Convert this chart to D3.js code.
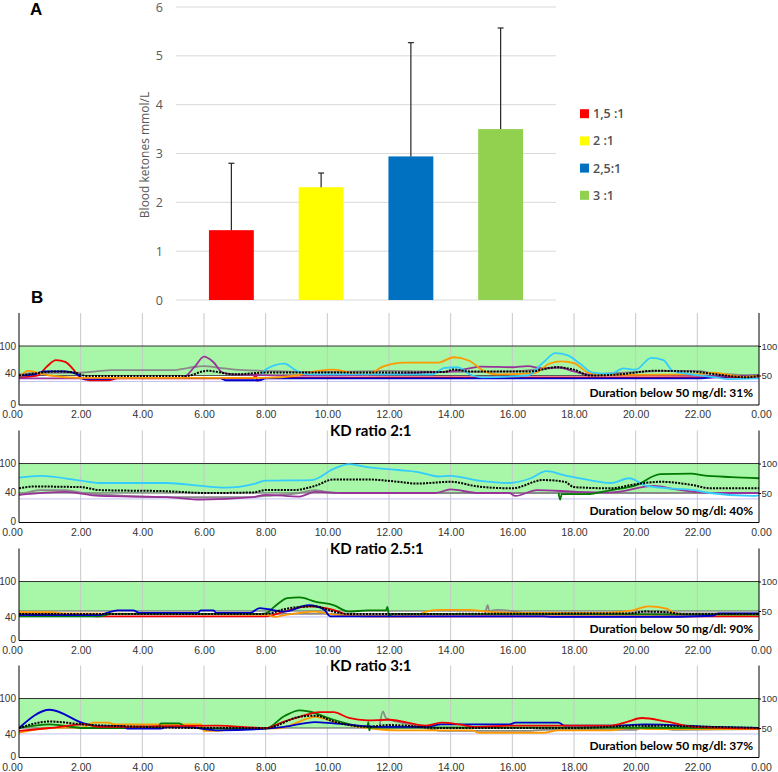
<!DOCTYPE html>
<html><head><meta charset="utf-8">
<script src="https://cdn.jsdelivr.net/npm/d3@7"></script>
<style>body{margin:0;background:#fff;} svg{display:block;}</style>
</head><body>
<svg id="chart" width="778" height="772"></svg>
<script>
// ---------------- Panel A data ----------------
const ratioCategories = ["1,5 :1", "2 :1", "2,5:1", "3 :1"];
const ketoneMeans = [1.43, 2.31, 2.94, 3.50];
const ketoneSD = [1.37, 0.29, 2.33, 2.07];
const ketoneTicks = [0, 1, 2, 3, 4, 5, 6];
const ratioColors = ["#ff0000", "#ffff00", "#0070c0", "#92d050"];

// ---------------- Panel B data ----------------
const timeTicks = [0, 2, 4, 6, 8, 10, 12, 14, 16, 18, 20, 22, 24];
const timeTickLabels = ["0.00","2.00","4.00","6.00","8.00","10.00","12.00","14.00","16.00","18.00","20.00","22.00","0.00"];
const leftTicks = [0, 40, 100];
const rightTicks = [50, 100];
const panelTitles = [null, "KD ratio 2:1", "KD ratio 2.5:1", "KD ratio 3:1"];
const durationTexts = ["Duration below 50 mg/dl: 31%", "Duration below 50 mg/dl: 40%", "Duration below 50 mg/dl: 90%", "Duration below 50 mg/dl: 37%"];

// traces: [hour, mg/dl]
const p1Gray = [[0,52],[0.5,54],[2,55],[2.5,57],[3,59],[5,59],[5.5,63],[6,66],[6.5,63],[7,60],[8,58],[10,56],[12,58],[13,57],[14,56],[16,57],[17.5,63],[18.5,52],[20,56],[21,58],[22,58],[22.5,54],[24,50]];
const p1Red = [[0,47],[0.6,50],[0.9,65],[1.2,76],[1.5,73],[1.8,58],[2.0,46],[2.3,42],[2.9,42],[3.2,45],[7.6,45],[7.68,53],[7.72,41],[7.9,46],[12,47],[18,47],[24,47]];
const p1Blue = [[0,50],[0.5,52],[0.8,57],[1.5,57],[1.9,52],[2.1,44],[2.9,44],[3.2,46],[6.5,46],[6.7,42],[7.8,42],[8,45],[17,45],[22,45],[22.5,47],[24,50]];
const p1Purple = [[0,45],[2,45],[5.3,46],[5.7,65],[6.0,82],[6.3,73],[6.6,55],[7,52],[9,50],[12,52],[13,55],[14,57],[14.6,62],[15,65],[16,64],[16.5,66],[17,62],[17.5,64],[18,57],[18.5,52],[20,51],[22,50],[24,48]];
const p1Orange = [[0,48],[0.3,58],[0.6,55],[1,50],[2,46],[8,46],[9,50],[9.7,58],[10.2,60],[10.8,54],[11.3,52],[11.8,65],[12.5,72],[13.6,72],[14.1,81],[14.6,75],[15.1,57],[15.5,52],[16.7,54],[17.2,70],[17.6,74],[18.0,71],[18.5,54],[19,51],[22,52],[22.5,55],[23.5,48],[24,50]];
const p1Cyan = [[7.9,52],[8.0,60],[8.6,70],[9.0,58],[9.4,52],[13.4,52],[13.8,63],[14.2,64],[14.7,50],[15,47],[16.5,50],[17,72],[17.4,88],[17.8,84],[18.2,70],[18.6,55],[19.2,53],[19.6,62],[20,60],[20.5,80],[20.9,76],[21.2,58],[21.8,52],[22.6,47],[23,44],[24,45]];
const p1Mean = [[0,50],[0.6,54],[1.2,57],[1.8,55],[2.2,49],[5.4,49],[6.1,58],[7,52],[8,55],[10,55],[12,55],[13.8,56],[14.1,60],[14.6,57],[16.6,57],[17.4,64],[18,60],[18.5,50],[19.5,52],[20.6,58],[22,56],[22.6,52],[23.6,47],[24,50]];

const p2Gray = [[0,47],[0.7,55],[1.5,55],[2.1,50],[4.8,43],[7.5,43],[8,45],[9.1,50],[9.6,55],[10.2,50],[24,50]];
const p2Purple = [[0,47],[1.5,52],[2.6,45],[4.8,43],[5.9,39],[7.6,43],[8,47],[9.1,44],[9.6,52],[10.5,50],[13.5,50],[14,56],[14.9,50],[15.9,50],[16.1,45],[16.8,55],[18.1,52],[19.2,51],[20.6,62],[21.3,56],[22.4,50],[24,50]];
const p2Green = [[17.5,50],[17.55,39],[17.6,48],[18.4,48],[19.2,55],[20,63],[20.8,82],[21.8,83],[22.2,80],[23.1,77],[24,75]];
const p2Cyan = [[0,76],[0.7,79],[2,71],[2.6,67],[4.8,67],[5.9,62],[6.7,59],[7.6,65],[8,71],[9.5,72],[10.2,91],[10.7,99],[11.3,94],[12.3,89],[12.9,86],[13.6,78],[14,79],[14.9,71],[15.9,67],[16.6,75],[17.1,87],[17.7,80],[18.5,72],[19.2,67],[19.8,75],[20.3,63],[20.8,59],[21.9,55],[22.4,50],[23.8,45],[24,46]];
const p2Mean = [[0,58],[0.5,61],[2,60],[2.6,55],[4.8,53],[6.1,50],[7.6,51],[8,55],[8.9,55],[9.6,62],[10.2,73],[11.3,73],[12.3,69],[12.9,66],[14,69],[14.9,61],[16,58],[17,72],[17.7,69],[18,60],[19.2,58],[20,65],[20.8,69],[21.9,63],[22.4,58],[24,58]];

const p3Gray = [[0,45],[15.1,45],[15.2,60],[15.25,50],[15.5,52],[16,50],[16.5,46],[24,46]];
const p3Red = [[0,44],[2,44],[2.5,41],[8,41],[8.6,49],[9.4,58],[10.2,52],[10.7,43],[11.2,41],[24,41]];
const p3Orange = [[0,48],[1,48],[1.5,46],[8,44],[8.3,40],[8.6,43],[9.6,49],[10.2,44],[10.8,42],[12.8,41],[13.2,49],[13.6,52],[14.6,52],[15.2,49],[16,47],[19,47],[19.9,51],[20.4,58],[21,54],[21.3,46],[22,44],[24,44]];
const p3Green = [[0,41],[2.6,41],[3,45],[7.7,45],[8,46],[8.3,58],[8.7,72],[9.1,73],[9.6,66],[10.2,60],[10.7,49],[11.3,51],[11.9,51],[11.95,57],[12.0,41],[12.1,45],[24,44]];
const p3Blue = [[0,43],[2.6,43],[2.85,47],[3.2,51],[3.7,51],[3.9,47],[5.8,47],[5.9,51],[6.3,51],[6.4,47],[7.5,47],[7.8,55],[8.1,53],[8.6,49],[9.4,60],[9.9,52],[10.1,41],[17,41],[17.3,40],[20.4,40],[22.5,42],[22.7,46],[24,46]];
const p3Mean = [[0,45],[8,45],[8.6,53],[9.1,57],[9.6,58],[10.2,49],[10.7,45],[19.8,46],[20.3,49],[21,48],[21.5,45],[24,45]];

const p4Gray = [[11.7,55],[11.8,78],[11.9,67],[12.4,59],[13.2,50],[13.7,45],[16.5,45],[17,47],[20,47],[20.3,53],[21.3,47],[24,48]];
const p4Orange = [[0,42],[1.0,50],[2.1,51],[2.4,59],[2.9,59],[3.1,56],[5.9,56],[6.0,45],[6.3,45],[6.9,48],[8.5,50],[9.1,61],[9.6,69],[10.2,61],[11.3,50],[12.3,46],[14.7,46],[14.9,42],[17,42],[17.5,46],[19.2,46],[19.8,50],[20.5,48],[24,48]];
const p4Green = [[0,50],[1.0,56],[2.1,50],[4.5,50],[4.6,58],[5.2,58],[5.4,52],[6.3,49],[8,49],[8.6,70],[9.1,80],[9.4,78],[10.2,64],[11.3,52],[11.33,60],[11.36,46],[11.4,51],[24,50]];
const p4Blue = [[0,50],[1.0,81],[2.1,58],[2.6,53],[3.4,53],[3.5,49],[4.6,49],[4.8,52],[5.6,52],[5.9,49],[6.5,46],[8,49],[8.6,52],[9.6,60],[10.2,58],[11.8,52],[13.2,52],[13.7,56],[15.9,56],[16.1,59],[17.5,59],[17.7,54],[19.2,54],[20.3,56],[22.4,52],[24,50]];
const p4Red = [[0,45],[1.0,50],[2.1,56],[2.6,52],[6.4,54],[8,50],[8.6,61],[9.1,69],[9.75,77],[10.2,77],[10.7,67],[11.3,63],[12,64],[13.2,54],[13.7,59],[14.3,56],[14.8,52],[16,54],[19.2,54],[19.7,60],[20.2,67],[21,61],[21.9,52],[24,49]];
const p4Mean = [[0,50],[1.0,61],[2.1,56],[4,52],[6,50],[8,50],[9.1,69],[9.6,71],[10.2,61],[11.3,52],[12,55],[13.7,50],[18,50],[20.3,54],[22.4,52],[24,50]];

const traceColors = {gray:"#8a8a8a", red:"#ee0000", blue:"#0000cc", purple:"#993399", orange:"#ff9900", cyan:"#33ccff", green:"#007a00", mean:"#000000"};

const panelTraces = [
  [["gray",p1Gray],["red",p1Red],["blue",p1Blue],["purple",p1Purple],["orange",p1Orange],["cyan",p1Cyan],["mean",p1Mean]],
  [["gray",p2Gray],["purple",p2Purple],["green",p2Green],["cyan",p2Cyan],["mean",p2Mean]],
  [["gray",p3Gray],["red",p3Red],["orange",p3Orange],["green",p3Green],["blue",p3Blue],["mean",p3Mean]],
  [["gray",p4Gray],["orange",p4Orange],["green",p4Green],["blue",p4Blue],["red",p4Red],["mean",p4Mean]]
];

const svg = d3.select("#chart");

// ---------------- Panel A ----------------
const gA = svg.append("g");
const yA = d3.scaleLinear().domain([0, 6]).range([300, 7]);
const xA = d3.scaleBand().domain(ratioCategories).range([176, 556]).paddingInner(0.5).paddingOuter(0.367);

gA.selectAll("line.grid").data(ketoneTicks).join("line")
  .attr("x1", 176).attr("x2", 556)
  .attr("y1", d => yA(d)).attr("y2", d => yA(d))
  .attr("stroke", "#d9d9d9").attr("stroke-width", 1);

const axA = gA.append("g").attr("transform", "translate(166,0)")
  .call(d3.axisLeft(yA).tickValues(ketoneTicks).tickSize(0).tickFormat(d3.format("d")));
axA.select(".domain").remove();
axA.selectAll("text").attr("font-family", "'Open Sans', sans-serif").attr("font-size", 12.5).attr("fill", "#595959");

gA.selectAll("rect.bar").data(ketoneMeans).join("rect")
  .attr("x", (d, i) => xA(ratioCategories[i])).attr("width", xA.bandwidth())
  .attr("y", d => yA(d)).attr("height", d => yA(0) - yA(d))
  .attr("fill", (d, i) => ratioColors[i]);

const errG = gA.selectAll("g.err").data(ketoneMeans).join("g");
errG.append("line")
  .attr("x1", (d, i) => xA(ratioCategories[i]) + xA.bandwidth() / 2)
  .attr("x2", (d, i) => xA(ratioCategories[i]) + xA.bandwidth() / 2)
  .attr("y1", d => yA(d)).attr("y2", (d, i) => yA(d + ketoneSD[i]))
  .attr("stroke", "#262626").attr("stroke-width", 1.2);
errG.append("line")
  .attr("x1", (d, i) => xA(ratioCategories[i]) + xA.bandwidth() / 2 - 3)
  .attr("x2", (d, i) => xA(ratioCategories[i]) + xA.bandwidth() / 2 + 3)
  .attr("y1", (d, i) => yA(d + ketoneSD[i])).attr("y2", (d, i) => yA(d + ketoneSD[i]))
  .attr("stroke", "#262626").attr("stroke-width", 1.2);

gA.append("text").attr("transform", "translate(149,155) rotate(-90)")
  .attr("text-anchor", "middle").attr("font-family", "'Open Sans', sans-serif")
  .attr("font-size", 12).attr("fill", "#595959").text("Blood ketones mmol/L");

const legA = gA.selectAll("g.leg").data(ratioCategories).join("g")
  .attr("transform", (d, i) => `translate(580,${113.7 + i * 27.2})`);
legA.append("rect").attr("x", 0).attr("y", -4.5).attr("width", 9).attr("height", 9)
  .attr("fill", (d, i) => ratioColors[i]);
legA.append("text").attr("x", 13).attr("y", 4.5)
  .attr("font-family", "'Open Sans', sans-serif").attr("font-size", 12.5).attr("font-weight", 600)
  .attr("fill", "#505050").text(d => d);

svg.append("text").attr("x", 30).attr("y", 15).attr("font-family", "'Liberation Sans', Arial, sans-serif")
  .attr("font-weight", "bold").attr("font-size", 17).text("A");
svg.append("text").attr("x", 31).attr("y", 303).attr("font-family", "'Liberation Sans', Arial, sans-serif")
  .attr("font-weight", "bold").attr("font-size", 17).text("B");

// ---------------- Panel B ----------------
const xT = d3.scaleLinear().domain([0, 24]).range([19, 759]);
const panelBottoms = [405, 522.5, 640.5, 757.5];
const panelH = 92;
const labelShift40 = [-8, -7, 0, 0];

panelBottoms.forEach((bottom, pi) => {
  const g = svg.append("g");
  const y = d3.scaleLinear().domain([0, 156]).range([bottom, bottom - panelH]);
  const clipId = "clip" + pi;
  g.append("clipPath").attr("id", clipId).append("rect")
    .attr("x", xT(0)).attr("y", y(156)).attr("width", xT(24) - xT(0)).attr("height", panelH);

  // green target band
  g.append("rect").attr("x", xT(0)).attr("width", xT(24) - xT(0))
    .attr("y", y(100)).attr("height", y(50) - y(100)).attr("fill", "#a8f7a8");

  // vertical grid
  g.selectAll("line.vg").data(timeTicks.slice(1, -1)).join("line")
    .attr("x1", d => xT(d)).attr("x2", d => xT(d))
    .attr("y1", y(156)).attr("y2", y(0)).attr("stroke", "#c8c8c8").attr("stroke-width", 1);

  // 40 line
  g.append("line").attr("x1", xT(0)).attr("x2", xT(24)).attr("y1", y(40)).attr("y2", y(40))
    .attr("stroke", "#c0c0f0").attr("stroke-width", 1);
  // 50 and 100 lines
  g.append("line").attr("x1", xT(0)).attr("x2", xT(24)).attr("y1", y(50)).attr("y2", y(50))
    .attr("stroke", "#5a5a5a").attr("stroke-width", 1);
  g.append("line").attr("x1", xT(0)).attr("x2", xT(24)).attr("y1", y(100)).attr("y2", y(100))
    .attr("stroke", "#333").attr("stroke-width", 1);

  // traces
  const line = d3.line().x(d => xT(d[0])).y(d => y(d[1])).curve(d3.curveMonotoneX);
  const tg = g.append("g").attr("clip-path", `url(#${clipId})`);
  panelTraces[pi].forEach(([key, data]) => {
    tg.append("path").attr("d", line(data)).attr("fill", "none")
      .attr("stroke", traceColors[key]).attr("stroke-width", key === "mean" ? 2 : 1.8)
      .attr("stroke-dasharray", key === "mean" ? "2,1.2" : null)
      .attr("stroke-linejoin", "round");
  });

  // axes
  g.append("line").attr("x1", xT(0)).attr("x2", xT(0)).attr("y1", y(156)).attr("y2", y(0)).attr("stroke", "#000");
  g.append("line").attr("x1", xT(24)).attr("x2", xT(24)).attr("y1", y(156)).attr("y2", y(0)).attr("stroke", "#000");
  g.append("line").attr("x1", xT(0)).attr("x2", xT(24)).attr("y1", y(0)).attr("y2", y(0)).attr("stroke", "#000");

  const axB = g.append("g").attr("transform", `translate(0,${bottom})`)
    .call(d3.axisBottom(xT).tickValues(timeTicks).tickSize(0).tickPadding(6).tickFormat((d, i) => timeTickLabels[i]));
  axB.select(".domain").remove();
  axB.selectAll("text").attr("font-family", "'Liberation Sans', Arial, sans-serif").attr("font-size", 10.5).attr("fill", "#333")
    .attr("transform", (d, i) => i === 0 ? "translate(-7,0)" : (i === timeTicks.length - 1 ? "translate(2,0)" : null));

  const axL = g.append("g").attr("transform", `translate(${xT(0) - 2},0)`)
    .call(d3.axisLeft(y).tickValues(leftTicks).tickSize(0).tickPadding(1));
  axL.select(".domain").remove();
  axL.selectAll("text").attr("font-family", "'Liberation Sans', Arial, sans-serif").attr("font-size", 10).attr("fill", "#333")
    .attr("transform", d => d === 40 ? `translate(0,${labelShift40[pi]})` : (d === 0 ? "translate(0,-1)" : null));

  const axR = g.append("g").attr("transform", `translate(${xT(24)},0)`)
    .call(d3.axisRight(y).tickValues(rightTicks).tickSize(2).tickPadding(0.5));
  axR.select(".domain").remove();
  axR.selectAll("line").attr("stroke", "#000");
  axR.selectAll("text").attr("font-family", "'Liberation Sans', Arial, sans-serif").attr("font-size", 9.5).attr("fill", "#333");

  if (panelTitles[pi]) {
    g.append("text").attr("x", 330).attr("y", y(156) + 5)
      .attr("font-family", "Lato, 'Open Sans', sans-serif").attr("font-weight", "bold")
      .attr("font-size", 15).attr("fill", "#000").text(panelTitles[pi]);
  }
  g.append("text").attr("x", 753).attr("y", y(20) + 4).attr("text-anchor", "end")
    .attr("font-family", "Lato, 'Open Sans', sans-serif").attr("font-weight", "bold")
    .attr("font-size", 12).attr("fill", "#000").text(durationTexts[pi]);
});
</script></body></html>
